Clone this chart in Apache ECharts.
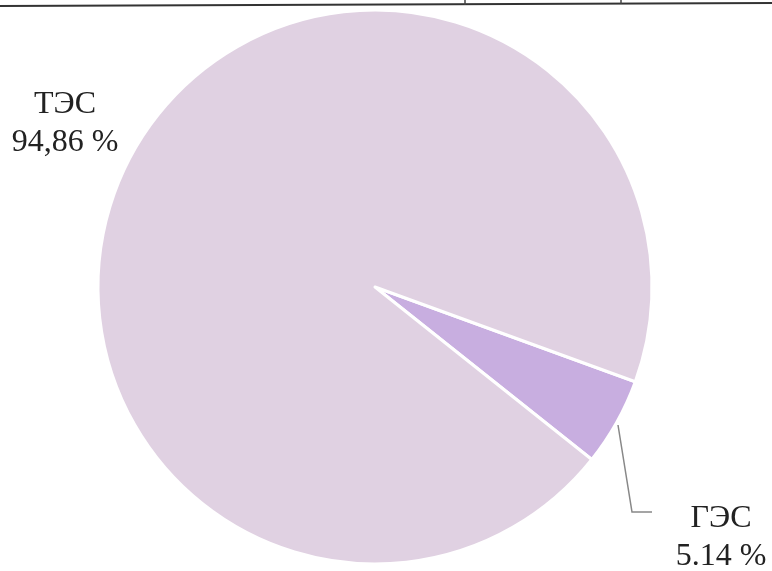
<!DOCTYPE html>
<html>
<head>
<meta charset="utf-8">
<script src="https://cdn.jsdelivr.net/npm/echarts@6/dist/echarts.min.js"></script>
<style>html,body{margin:0;padding:0;background:#fff}#c{width:772px;height:571px}</style>
</head>
<body>
<div id="c"></div>
<script>
// Data
var categories = ['ГЭС', 'ТЭС'];
var values = [5.14, 94.86];
var valueLabels = ['5.14 %', '94,86 %'];
var sliceColors = ['#c8aee0', '#e0d1e2'];

var chart = echarts.init(document.getElementById('c'));
var data = categories.map(function (c, i) {
  return {
    name: c,
    value: values[i],
    itemStyle: { color: sliceColors[i] },
    labelLine: { show: i === 0 }
  };
});

chart.setOption({
  backgroundColor: '#fff',
  animation: false,
  graphic: [
    { type: 'line', shape: { x1: 0, y1: 6, x2: 772, y2: 3 }, style: { stroke: '#333', lineWidth: 2 } },
    { type: 'line', shape: { x1: 465, y1: 0, x2: 465, y2: 5 }, style: { stroke: '#444', lineWidth: 1.5 } },
    { type: 'line', shape: { x1: 621, y1: 0, x2: 621, y2: 4 }, style: { stroke: '#444', lineWidth: 1.5 } }
  ],
  series: [{
    type: 'pie',
    center: [375, 287],
    radius: 277,
    startAngle: -20,
    clockwise: true,
    data: data,
    itemStyle: { borderColor: '#fff', borderWidth: 3 },
    label: {
      show: true,
      position: 'outside',
      overflow: 'none',
      formatter: function (p) { return p.name + '\n' + valueLabels[p.dataIndex]; },
      fontFamily: 'Liberation Serif',
      fontSize: 32,
      lineHeight: 38,
      color: '#222',
      align: 'center'
    },
    labelLine: { lineStyle: { color: '#888', width: 1.5 } },
    labelLayout: function (params) {
      if (params.dataIndex === 1) {
        return { x: 65, y: 124, width: 200, align: 'center', verticalAlign: 'middle' };
      }
      return {
        x: 721, y: 538, width: 200, align: 'center', verticalAlign: 'middle',
        labelLinePoints: [[618, 425], [632, 512], [652, 512]]
      };
    }
  }]
});
</script>
</body>
</html>
